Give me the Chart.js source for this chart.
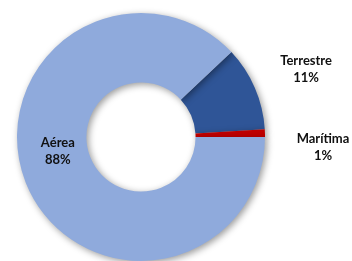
<!DOCTYPE html>
<html>
<head>
<meta charset="utf-8">
<script src="https://cdn.jsdelivr.net/npm/chart.js@4"></script>
<style>
  html, body { margin: 0; padding: 0; background: #fff; }
  #wrap { width: 352px; height: 261px; }
</style>
</head>
<body>
<div id="wrap"><canvas id="myChart" width="352" height="261"></canvas></div>
<script>
var categories = ['Terrestre', 'Marítima', 'Aérea'];
var shares = [11, 1, 88];
var colors = ['#2F5597', '#C00000', '#8FAADC'];

// where each label sits: [fraction of outer radius, shift of angle in degrees]
var labelPlace = [[1.44, 1], [1.47, 5], [0.68, 12]];

var shadowPlugin = {
    id: 'ringShadow',
    beforeDatasetDraw: function(chart){
        var ctx = chart.ctx;
        ctx.save();
        ctx.shadowColor = 'rgba(0,0,0,0.4)';
        ctx.shadowBlur = 7;
        ctx.shadowOffsetX = 2;
        ctx.shadowOffsetY = 2;
    },
    afterDatasetDraw: function(chart){
        chart.ctx.restore();
    }
};

var labelPlugin = {
    id: 'sliceLabels',
    afterDatasetsDraw: function(chart){
        var ctx = chart.ctx;
        var meta = chart.getDatasetMeta(0);
        var total = shares.reduce(function(a, b){ return a + b; }, 0);
        ctx.save();
        ctx.font = 'bold 13px Lato, "Liberation Sans", sans-serif';
        ctx.fillStyle = '#111';
        ctx.textAlign = 'center';
        ctx.textBaseline = 'middle';
        meta.data.forEach(function(arc, i){
            var p = arc.getProps(['x', 'y', 'startAngle', 'endAngle', 'outerRadius'], true);
            var mid = (p.startAngle + p.endAngle) / 2 + labelPlace[i][1] * Math.PI / 180;
            var r = p.outerRadius * labelPlace[i][0];
            var x = p.x + Math.cos(mid) * r;
            var y = p.y + Math.sin(mid) * r;
            var pct = Math.round(shares[i] / total * 100) + '%';
            ctx.fillText(categories[i], x, y - 8.5);
            ctx.fillText(pct, x, y + 8.5);
        });
        ctx.restore();
    }
};

const data = {
    labels: categories,
    datasets: [{
        data: shares,
        backgroundColor: colors,
        borderWidth: 0,
        hoverOffset: 0
    }]
};

const config = {
    type: 'doughnut',
    data: data,
    options: {
        responsive: false,
        animation: false,
        events: [],
        cutout: '44%',
        rotation: 46.8,
        layout: { padding: { left: 17, right: 87, top: 13, bottom: 0 } },
        plugins: {
            legend: { display: false },
            tooltip: { enabled: false }
        }
    },
    plugins: [shadowPlugin, labelPlugin]
};

const myChart = new Chart(document.getElementById('myChart'), config);
</script>
</body>
</html>
